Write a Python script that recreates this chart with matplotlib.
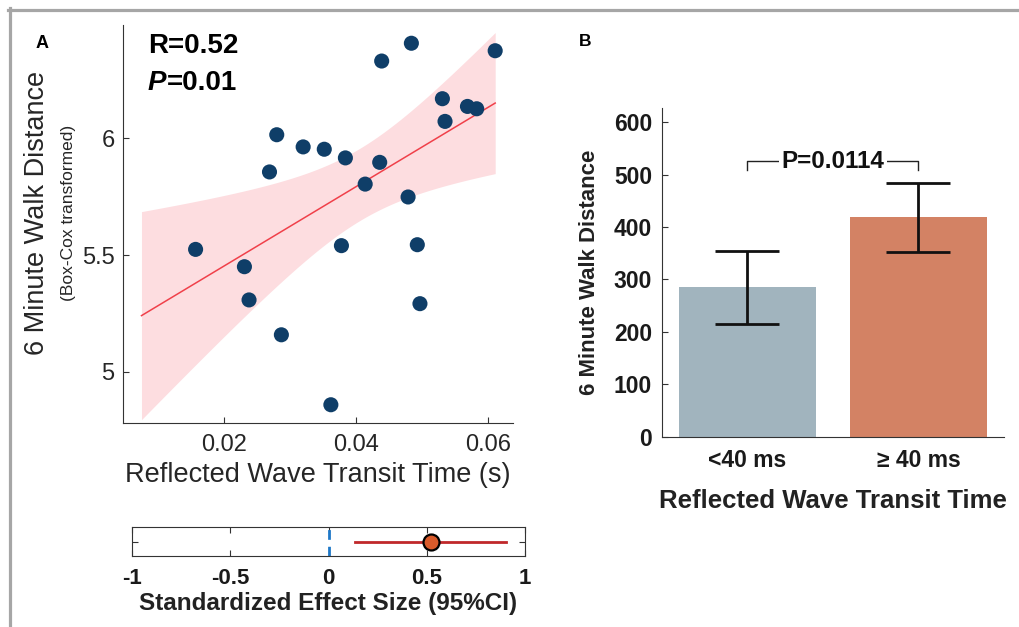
import numpy as np
import matplotlib.pyplot as plt
from matplotlib.lines import Line2D

plt.rcParams['font.family'] = ['Liberation Sans', 'DejaVu Sans']

# ---- panel A: reflected wave transit time vs 6MWD (Box-Cox) ----
rwtt = [0.0157, 0.0231, 0.0238, 0.0269, 0.0280, 0.0287, 0.0320, 0.0352,
        0.0362, 0.0378, 0.0384, 0.0414, 0.0436, 0.0439, 0.0479, 0.0484,
        0.0493, 0.0497, 0.0531, 0.0535, 0.0569, 0.0583, 0.0611]
walk_bc = [5.524, 5.450, 5.308, 5.855, 6.014, 5.159, 5.962, 5.952,
           4.860, 5.540, 5.915, 5.803, 5.896, 6.329, 5.748, 6.405,
           5.544, 5.292, 6.168, 6.071, 6.135, 6.125, 6.373]
fit_x_range = [0.0075, 0.0611]
t_crit = 2.080  # t(0.975, df=21)

# standardized effect size with 95% CI
effect = 0.52
effect_ci = [0.136, 0.903]

# ---- panel B: bar chart ----
groups = ['<40 ms', '\u2265 40 ms']
walk_mean = [285.7, 418.7]
walk_lo = [215.7, 353.1]
walk_hi = [353.8, 484.2]
bar_colors = ['#A1B4BE', '#D38264']
p_label = 'P=0.0114'

W, H = 1019, 627
fig = plt.figure(figsize=(W/100, H/100), dpi=100)

def fx(px):
    return px / W

def fy(py):
    return 1 - py / H

axc = '#333333'

# linear fit and pointwise confidence band
x = np.array(rwtt)
y = np.array(walk_bc)
n = len(x)
b, a = np.polyfit(x, y, 1)
xs = np.linspace(fit_x_range[0], fit_x_range[1], 200)
yfit = a + b * xs
s = np.sqrt(np.sum((y - (a + b * x))**2) / (n - 2))
sxx = np.sum((x - x.mean())**2)
half = t_crit * s * np.sqrt(1 / n + (xs - x.mean())**2 / sxx)

axA = fig.add_axes([fx(123), fy(423), fx(513) - fx(123), fy(25) - fy(423)])
axA.fill_between(xs, yfit - half, yfit + half, color='#FDDDE0', lw=0)
axA.plot(xs, yfit, color='#F0404A', lw=1.1)
axA.scatter(x, y, s=118, color='#0F3E68', edgecolors='none', zorder=3)
axA.set_xlim(0.0047, 0.0638)
axA.set_ylim(4.782, 6.483)
axA.set_xticks([0.02, 0.04, 0.06])
axA.set_xticklabels(['0.02', '0.04', '0.06'])
axA.set_yticks([5, 5.5, 6])
axA.set_yticklabels(['5', '5.5', '6'])
for sp in ['top', 'right']:
    axA.spines[sp].set_visible(False)
for sp in ['left', 'bottom']:
    axA.spines[sp].set_color(axc)
    axA.spines[sp].set_linewidth(0.8)
axA.tick_params(direction='in', length=4, width=0.8, color=axc,
                labelsize=17, labelcolor='#262626')
axA.tick_params(axis='x', pad=8)
axA.tick_params(axis='y', pad=6)
axA.set_xlabel('Reflected Wave Transit Time (s)', fontsize=19.5,
               color='#262626', labelpad=4)

fig.text(fx(37), fy(213), '6 Minute Walk Distance', rotation=90,
         ha='center', va='center', fontsize=19.5, color='#262626')
fig.text(fx(69), fy(213), '(Box-Cox transformed)', rotation=90,
         ha='center', va='center', fontsize=12.5, color='#262626')

fig.text(fx(148), fy(53), 'R=0.52', fontsize=20, fontweight='bold',
         va='baseline')
tP = fig.text(fx(148), fy(90), 'P', fontsize=20, fontweight='bold',
              fontstyle='italic', va='baseline')
axA.annotate('=0.01', xy=(1, 0), xycoords=tP, fontsize=20,
             fontweight='bold', va='bottom', ha='left')

fig.text(fx(42), fy(44), 'A', fontsize=13, fontweight='bold',
         ha='center', va='center')
fig.text(fx(585), fy(42), 'B', fontsize=12.5, fontweight='bold',
         ha='center', va='center')

# effect size strip
axE = fig.add_axes([fx(132), fy(556), fx(525) - fx(132), fy(527) - fy(556)])
axE.axvline(0, color='#1E78C8', lw=2, dashes=(3.5, 2.5))
axE.plot(effect_ci, [0, 0], color='#C0282A', lw=2)
axE.plot([effect], [0], 'o', ms=11.5, mfc='#D95B2B', mec='black', mew=1.6)
axE.set_xlim(-1, 1)
axE.set_ylim(-1, 1)
axE.set_xticks([-1, -0.5, 0, 0.5, 1])
axE.set_xticklabels(['-1', '-0.5', '0', '0.5', '1'], fontweight='bold')
axE.set_yticks([0])
axE.set_yticklabels([''])
for sp in axE.spines.values():
    sp.set_color(axc)
    sp.set_linewidth(0.8)
axE.tick_params(direction='in', length=4, width=0.8, color=axc,
                top=True, right=True, labelsize=16, pad=9,
                labelcolor='#1a1a1a')
axE.set_xlabel('Standardized Effect Size (95%CI)', fontsize=17.5,
               fontweight='bold', color='#222222', labelpad=2)

# bar chart
axB = fig.add_axes([fx(661.7), fy(436.7), fx(1004) - fx(661.7),
                    fy(108) - fy(436.7)])
pos = np.arange(1, len(groups) + 1)
mean = np.array(walk_mean)
yerr = [mean - np.array(walk_lo), np.array(walk_hi) - mean]
axB.bar(pos, mean, width=0.8, color=bar_colors)
axB.errorbar(pos, mean, yerr=yerr, fmt='none', ecolor='#111111',
             elinewidth=2, capsize=23, capthick=2)
axB.plot([pos[0], pos[0], pos[1], pos[1]], [508, 525.6, 525.6, 508],
         color='#222222', lw=1)
axB.text(pos.mean(), 525.6, p_label, ha='center', va='center', fontsize=17.5,
         fontweight='bold', color='#111111',
         bbox=dict(facecolor='white', edgecolor='none', pad=2))
axB.set_xlim(0.5, 2.5)
axB.set_ylim(0, 627)
axB.set_yticks(np.arange(0, 601, 100))
axB.set_xticks(pos)
axB.set_xticklabels(groups, fontweight='bold')
for lbl in axB.get_yticklabels():
    lbl.set_fontweight('bold')
for sp in ['top', 'right']:
    axB.spines[sp].set_visible(False)
for sp in ['left', 'bottom']:
    axB.spines[sp].set_color(axc)
    axB.spines[sp].set_linewidth(0.8)
axB.tick_params(axis='y', direction='in', length=4, width=0.8, color=axc,
                labelsize=16.5, pad=7, labelcolor='#1a1a1a')
axB.tick_params(axis='x', length=0, labelsize=16.5, pad=9,
                labelcolor='#1a1a1a')
axB.set_ylabel('6 Minute Walk Distance', fontsize=16, fontweight='bold',
               color='#222222', labelpad=10)
axB.set_xlabel('Reflected Wave Transit Time', fontsize=18.5,
               fontweight='bold', color='#222222', labelpad=12)

# grey frame on the top and left edge
fig.add_artist(Line2D([fx(8), 1], [fy(9.5), fy(9.5)], transform=fig.transFigure,
                      color='#A6A6A6', lw=2.3))
fig.add_artist(Line2D([fx(9.5), fx(9.5)], [0, fy(8)], transform=fig.transFigure,
                      color='#A6A6A6', lw=2.3))

fig.savefig('out.png', dpi=100)
